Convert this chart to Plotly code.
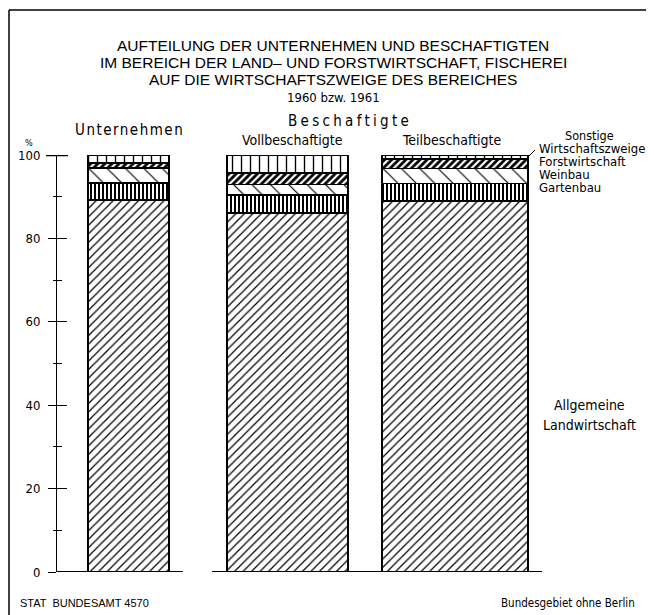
import plotly.graph_objects as go

# ---------------- data ----------------
groups = ["Unternehmen", "Vollbeschaftigte", "Teilbeschaftigte"]
group_pos = [0, 1, 2]
landwirtschaft = [89.2, 86.1, 89.0]
gartenbau = [4.1, 4.3, 4.2]
weinbau = [3.6, 2.5, 3.6]
forstwirtschaft = [1.2, 2.8, 2.2]
sonstige = [1.9, 4.3, 1.0]
y_tick_vals = [0, 20, 40, 60, 80, 100]
y_tick_text = ["0", "20", "40", "60", "80", "100"]

title_lines = [
    "AUFTEILUNG DER UNTERNEHMEN UND BESCHAFTIGTEN",
    "IM BEREICH DER LAND\u2013 UND FORSTWIRTSCHAFT, FISCHEREI",
    "AUF DIE WIRTSCHAFTSZWEIGE DES BEREICHES",
]
subtitle = "1960 bzw. 1961"

# ---------------- layout geometry (screen px; page adds 8px body margin) ----------------
OFF = 8
W, H = 654, 615
AXIS_X = 57            # screen x of y axis
BASE_Y = 572           # screen y of 0
TOP_Y = 155            # screen y of 100
ML = AXIS_X - OFF
MT = TOP_Y - OFF
MB = H - (BASE_Y - OFF)
MR = 0
PW, PH = W - ML - MR, H - MT - MB
SCALE = 160.0          # px per category unit
X0PX = 128.5           # screen pixel of category 0
bar_width = [0.506, 0.756, 0.9125]
bar_offset = [-0.253, -0.384, -0.416]

def px2x(px):
    return (px - OFF - ML) / PW

def py2y(py):
    return (H - MB - (py - OFF)) / PH

def pxdata(px):
    return (px - X0PX) / SCALE

COND = "DejaVu Sans Condensed, Liberation Sans Narrow, Arial Narrow, sans-serif"
SANS = "Liberation Sans, Arial, sans-serif"

series = [
    ("Allgemeine Landwirtschaft", landwirtschaft, dict(shape="/", size=6, solidity=0.2)),
    ("Gartenbau", gartenbau, dict(shape="|", size=4, solidity=0.5)),
    ("Weinbau", weinbau, dict(shape="\\", size=13, solidity=0.09)),
    ("Forstwirtschaft", forstwirtschaft, dict(shape="/", size=5, solidity=0.55)),
    ("Sonstige Wirtschaftszweige", sonstige, dict(shape="|", size=9, solidity=0.15)),
]

fig = go.Figure()
for name, vals, pat in series:
    fig.add_trace(go.Bar(
        x=group_pos, y=vals, name=name,
        width=bar_width, offset=bar_offset,
        marker=dict(color="white",
                    line=dict(color="black", width=1.5),
                    pattern=dict(fgcolor="black", bgcolor="white", fillmode="replace", **pat)),
        showlegend=False, hoverinfo="name+y",
    ))

fig.update_layout(
    width=W, height=H,
    margin=dict(l=ML, r=MR, t=MT, b=MB, pad=0),
    barmode="stack",
    paper_bgcolor="white", plot_bgcolor="white",
    xaxis=dict(range=[pxdata(AXIS_X), pxdata(W + OFF)], visible=False, fixedrange=True),
    yaxis=dict(range=[0, 100], tickvals=y_tick_vals, ticktext=y_tick_text,
               ticks="outside", ticklen=8, tickwidth=1.2, tickcolor="black",
               minor=dict(dtick=10, ticks="outside", ticklen=3, tickwidth=1, tickcolor="black"),
               showline=True, linecolor="black", linewidth=1,
               showgrid=False, zeroline=False, ticklabelstandoff=5,
               tickfont=dict(family=COND, size=13, color="black")),
    yaxis2=dict(range=[0, 100], overlaying="y", side="left", anchor="x",
                tickvals=y_tick_vals, ticks="inside", ticklen=10, tickwidth=1.2, tickcolor="black",
                minor=dict(dtick=10, ticks="inside", ticklen=5, tickwidth=1, tickcolor="black"),
                showticklabels=False, showgrid=False, zeroline=False, showline=False),
    font=dict(family=COND, color="black"),
)
# invisible trace to activate yaxis2
fig.add_trace(go.Scatter(x=[0], y=[0], yaxis="y2", mode="markers",
                         marker=dict(opacity=0), showlegend=False, hoverinfo="skip"))

ann = []
def text(px, py, s, size, family=COND, xanchor="center"):
    ann.append(dict(x=px2x(px), y=py2y(py), xref="paper", yref="paper", text=s,
                    showarrow=False, xanchor=xanchor, yanchor="middle",
                    font=dict(family=family, size=size, color="black")))

for i, line in enumerate(title_lines):
    text(333, 45 + i * 17.3, line, 15.5, family=SANS)
text(333, 97, subtitle, 13)
text(129, 130, '<span style="letter-spacing:1.5px">Unternehmen</span>', 15)
text(350, 121, '<span style="letter-spacing:3.3px">Beschaftigte</span>', 15)
text(292, 140, groups[1], 14)
text(452, 140, groups[2], 14)
text(29, 143, "%", 9)

lx = 537
text(589, 135, "Sonstige", 12.5)
text(lx, 148, "Wirtschaftszweige", 13, xanchor="left")
text(lx, 161, "Forstwirtschaft", 13, xanchor="left")
text(lx, 174, "Weinbau", 13, xanchor="left")
text(lx, 187, "Gartenbau", 13, xanchor="left")
text(589, 405, "Allgemeine", 14)
text(589, 425, "Landwirtschaft", 14)

text(18, 603, "STAT  BUNDESAMT 4570", 11, family=SANS, xanchor="left")
text(637, 603, "Bundesgebiet ohne Berlin", 11.5, xanchor="right")
fig.update_layout(annotations=ann)

shapes = [
    # baselines
    dict(type="line", xref="x", yref="y", x0=pxdata(48), x1=pxdata(183), y0=0, y1=0,
         line=dict(color="black", width=2)),
    dict(type="line", xref="x", yref="y", x0=pxdata(212), x1=pxdata(542), y0=0, y1=0,
         line=dict(color="black", width=2)),
    # bold 100 tick
    dict(type="line", xref="paper", yref="y", x0=px2x(46), x1=px2x(68), y0=100, y1=100,
         line=dict(color="black", width=2.5)),
    # leader line
    dict(type="line", xref="paper", yref="paper", x0=px2x(529), y0=py2y(156), x1=px2x(535), y1=py2y(150),
         line=dict(color="black", width=1)),
    # frame
    dict(type="line", xref="paper", yref="paper", x0=px2x(9), y0=py2y(10), x1=px2x(9), y1=py2y(630),
         line=dict(color="black", width=1.5)),
    dict(type="line", xref="paper", yref="paper", x0=px2x(9), y0=py2y(10), x1=px2x(670), y1=py2y(10),
         line=dict(color="black", width=1.5)),
]
fig.update_layout(shapes=shapes)

fig.write_html("out.html")
